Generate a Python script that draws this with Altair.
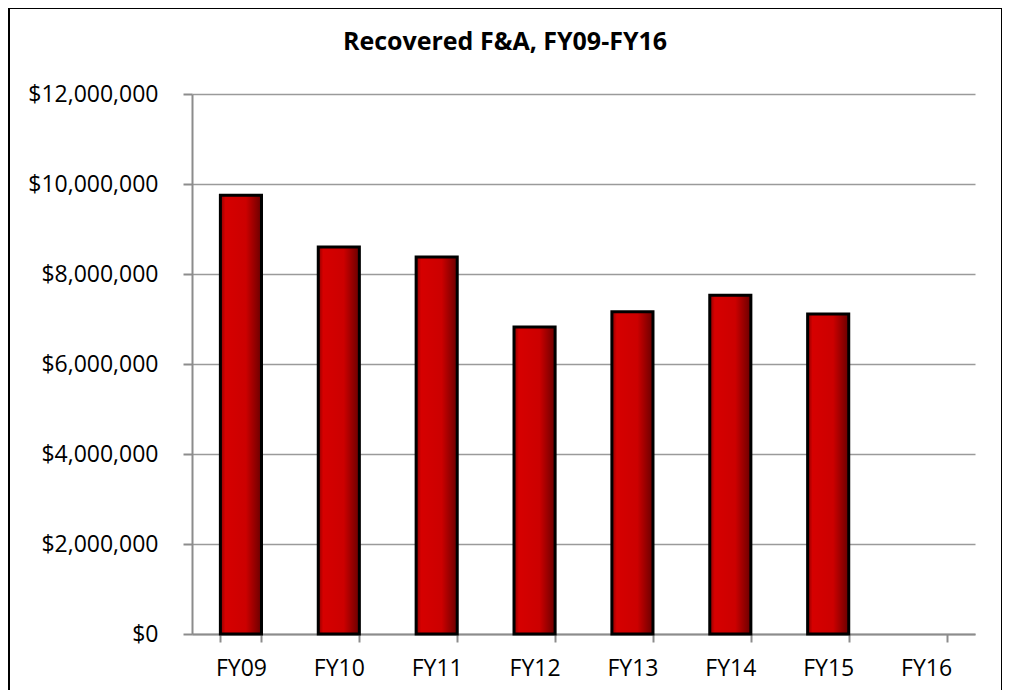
import altair as alt
import pandas as pd

years = ["FY09", "FY10", "FY11", "FY12", "FY13", "FY14", "FY15", "FY16"]
recovered = [9750000, 8600000, 8380000, 6820000, 7160000, 7530000, 7110000, None]
y_ticks = [0, 2000000, 4000000, 6000000, 8000000, 10000000, 12000000]
title_text = "Recovered F&A, FY09-FY16"

df = pd.DataFrame({"year": years, "value": recovered})

FONT = "Open Sans"

grad = alt.Gradient(
    gradient="linear",
    stops=[
        alt.GradientStop(color="#8a0000", offset=0),
        alt.GradientStop(color="#d60000", offset=0.12),
        alt.GradientStop(color="#cc0000", offset=0.62),
        alt.GradientStop(color="#6a0000", offset=1),
    ],
    x1=0, x2=1, y1=0, y2=0,
)

x = alt.X(
    "year:N",
    sort=years,
    scale=alt.Scale(domain=years, paddingInner=0.58, paddingOuter=0.29),
    axis=alt.Axis(
        title=None, labelAngle=0, tickBand="extent", labelFont=FONT,
        labelFontSize=23, labelColor="#000000", labelPadding=15,
        domainColor="#8c8c8c", domainWidth=2, tickColor="#8c8c8c",
        tickWidth=2, tickSize=8, grid=False,
    ),
)
y = alt.Y(
    "value:Q",
    scale=alt.Scale(domain=[0, 12000000], nice=False),
    axis=alt.Axis(
        title=None, values=y_ticks, format="$,.0f", labelFont=FONT,
        labelFontSize=23, labelColor="#000000", labelPadding=25,
        domainColor="#8c8c8c", domainWidth=2, tickColor="#8c8c8c",
        tickWidth=2, tickSize=9, gridColor="#9a9a9a", gridWidth=1.5,
    ),
)

bars = alt.Chart(df).mark_bar(
    color=grad, stroke="#000000", strokeWidth=3
).encode(x=x, y=y)

frame = alt.Chart(df).mark_rect(
    fill=None, stroke="#000000", strokeWidth=2
).encode(
    x=alt.value(-183), x2=alt.value(810), y=alt.value(-86), y2=alt.value(603)
)

title = alt.Chart(pd.DataFrame({"t": [title_text]})).mark_text(
    font=FONT, fontSize=25, fontWeight="bold", color="#000000",
    align="center", baseline="middle"
).encode(text="t:N", x=alt.value(313), y=alt.value(-52))

chart = alt.layer(frame, bars, title).properties(
    width=783,
    height=540,
    padding={"left": 184, "top": 86, "right": 27, "bottom": 56},
    autosize=alt.AutoSizeParams(type="none"),
).configure_view(stroke=None)

chart.save("out.html", embed_options={"renderer": "svg", "actions": False})
